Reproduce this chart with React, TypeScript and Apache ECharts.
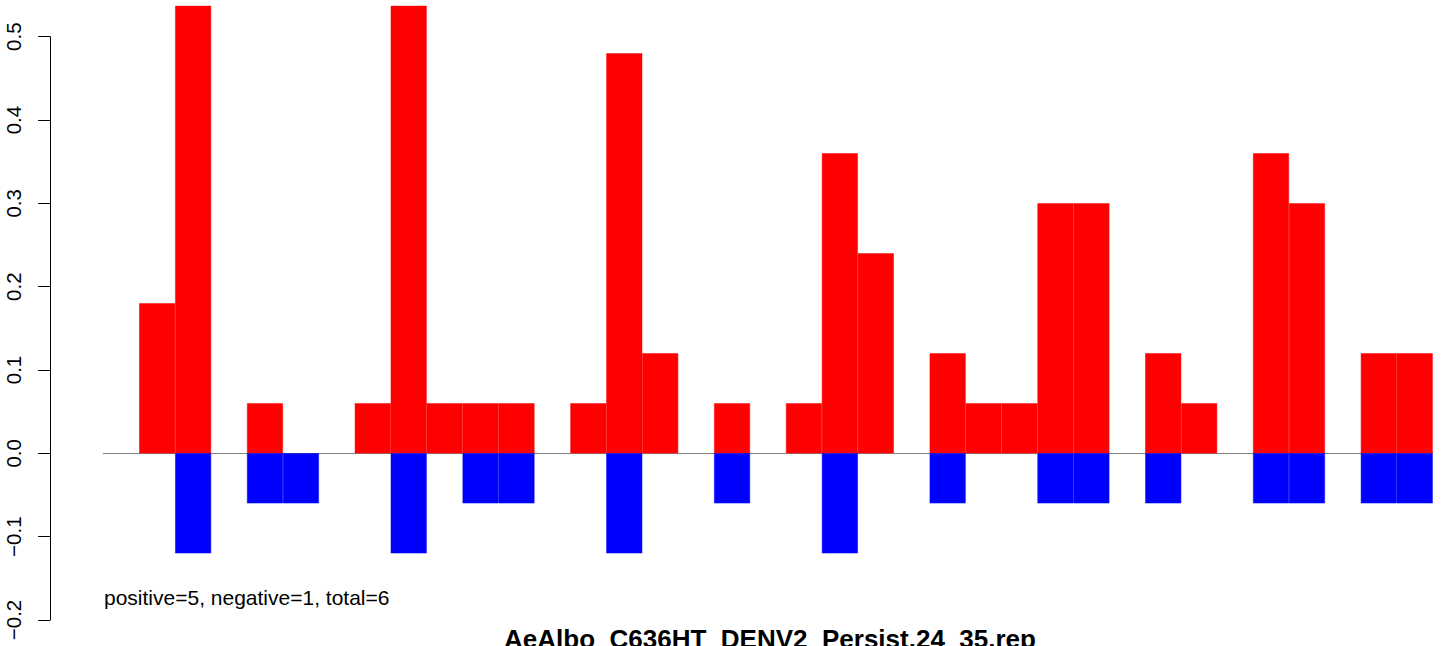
import React, { useEffect, useRef } from "react";
import * as echarts from "echarts";

const slots: string[] = Array.from({ length: 37 }, (_, i) => String(i + 1));
const positiveValues: (number | null)[] = [
  null, 0.18, 0.537, null, 0.06, null, null, 0.06, 0.537, 0.06,
  0.06, 0.06, null, 0.06, 0.48, 0.12, null, 0.06, null, 0.06,
  0.36, 0.24, null, 0.12, 0.06, 0.06, 0.30, 0.30, null, 0.12,
  0.06, null, 0.36, 0.30, null, 0.12, 0.12,
];
const negativeValues: (number | null)[] = [
  null, null, -0.12, null, -0.06, -0.06, null, null, -0.12, null,
  -0.06, -0.06, null, null, -0.12, null, null, -0.06, null, null,
  -0.12, null, null, -0.06, null, null, -0.06, -0.06, null, -0.06,
  null, null, -0.06, -0.06, null, -0.06, -0.06,
];
const yTicks = { min: -0.2, max: 0.5, interval: 0.1 };
const titleText = "AeAlbo_C636HT_DENV2_Persist.24_35.rep";
const summaryText = "positive=5, negative=1, total=6";

const FONT = "'Liberation Sans', Arial, Helvetica, sans-serif";

export default function App() {
  const ref = useRef<HTMLDivElement>(null);
  useEffect(() => {
    if (!ref.current) return;
    const chart = echarts.init(ref.current, null, { renderer: "svg" });
    chart.setOption({
      animation: false,
      backgroundColor: "#ffffff",
      grid: { left: 103.3, right: 11.3, top: 36.7, bottom: 26 },
      xAxis: {
        type: "category",
        data: slots,
        boundaryGap: true,
        axisLine: { show: true, onZero: true, lineStyle: { color: "#808080", width: 1 } },
        axisTick: { show: false },
        axisLabel: { show: false },
        splitLine: { show: false },
      },
      yAxis: {
        type: "value",
        min: yTicks.min,
        max: yTicks.max,
        interval: yTicks.interval,
        offset: 53.3,
        axisLine: { show: true, lineStyle: { color: "#000000", width: 1 } },
        axisTick: { show: true, length: 12, lineStyle: { color: "#000000", width: 1 } },
        axisLabel: {
          rotate: 90,
          margin: 26,
          fontSize: 20.5,
          color: "#000000",
          fontFamily: FONT,
          formatter: (v: number) => {
            const s = v.toFixed(1);
            return s.startsWith("-") ? "\u2212" + s.slice(1) : s;
          },
        },
        splitLine: { show: false },
      },
      series: [
        {
          type: "bar",
          data: positiveValues,
          barWidth: "100%",
          barGap: "-100%",
          itemStyle: { color: "#ff0000", borderColor: "#ff0000", borderWidth: 0.5 },
          clip: false,
          z: 2,
        },
        {
          type: "bar",
          data: negativeValues,
          barWidth: "100%",
          barGap: "-100%",
          itemStyle: { color: "#0000ff", borderColor: "#0000ff", borderWidth: 0.5 },
          clip: false,
          z: 2,
        },
      ],
      graphic: [
        {
          type: "text",
          left: 104,
          top: 587,
          style: {
            text: summaryText,
            fontSize: 21,
            fontFamily: FONT,
            fill: "#000000",
          },
        },
        {
          type: "text",
          x: 770,
          y: 639,
          style: {
            text: titleText,
            fontSize: 26,
            fontWeight: "bold",
            fontFamily: FONT,
            fill: "#000000",
            align: "center",
            verticalAlign: "middle",
          },
        },
      ],
    });
    return () => chart.dispose();
  }, []);
  return (
    <div
      ref={ref}
      style={{ position: "absolute", left: 0, top: 0, width: 1444, height: 646 }}
    />
  );
}
